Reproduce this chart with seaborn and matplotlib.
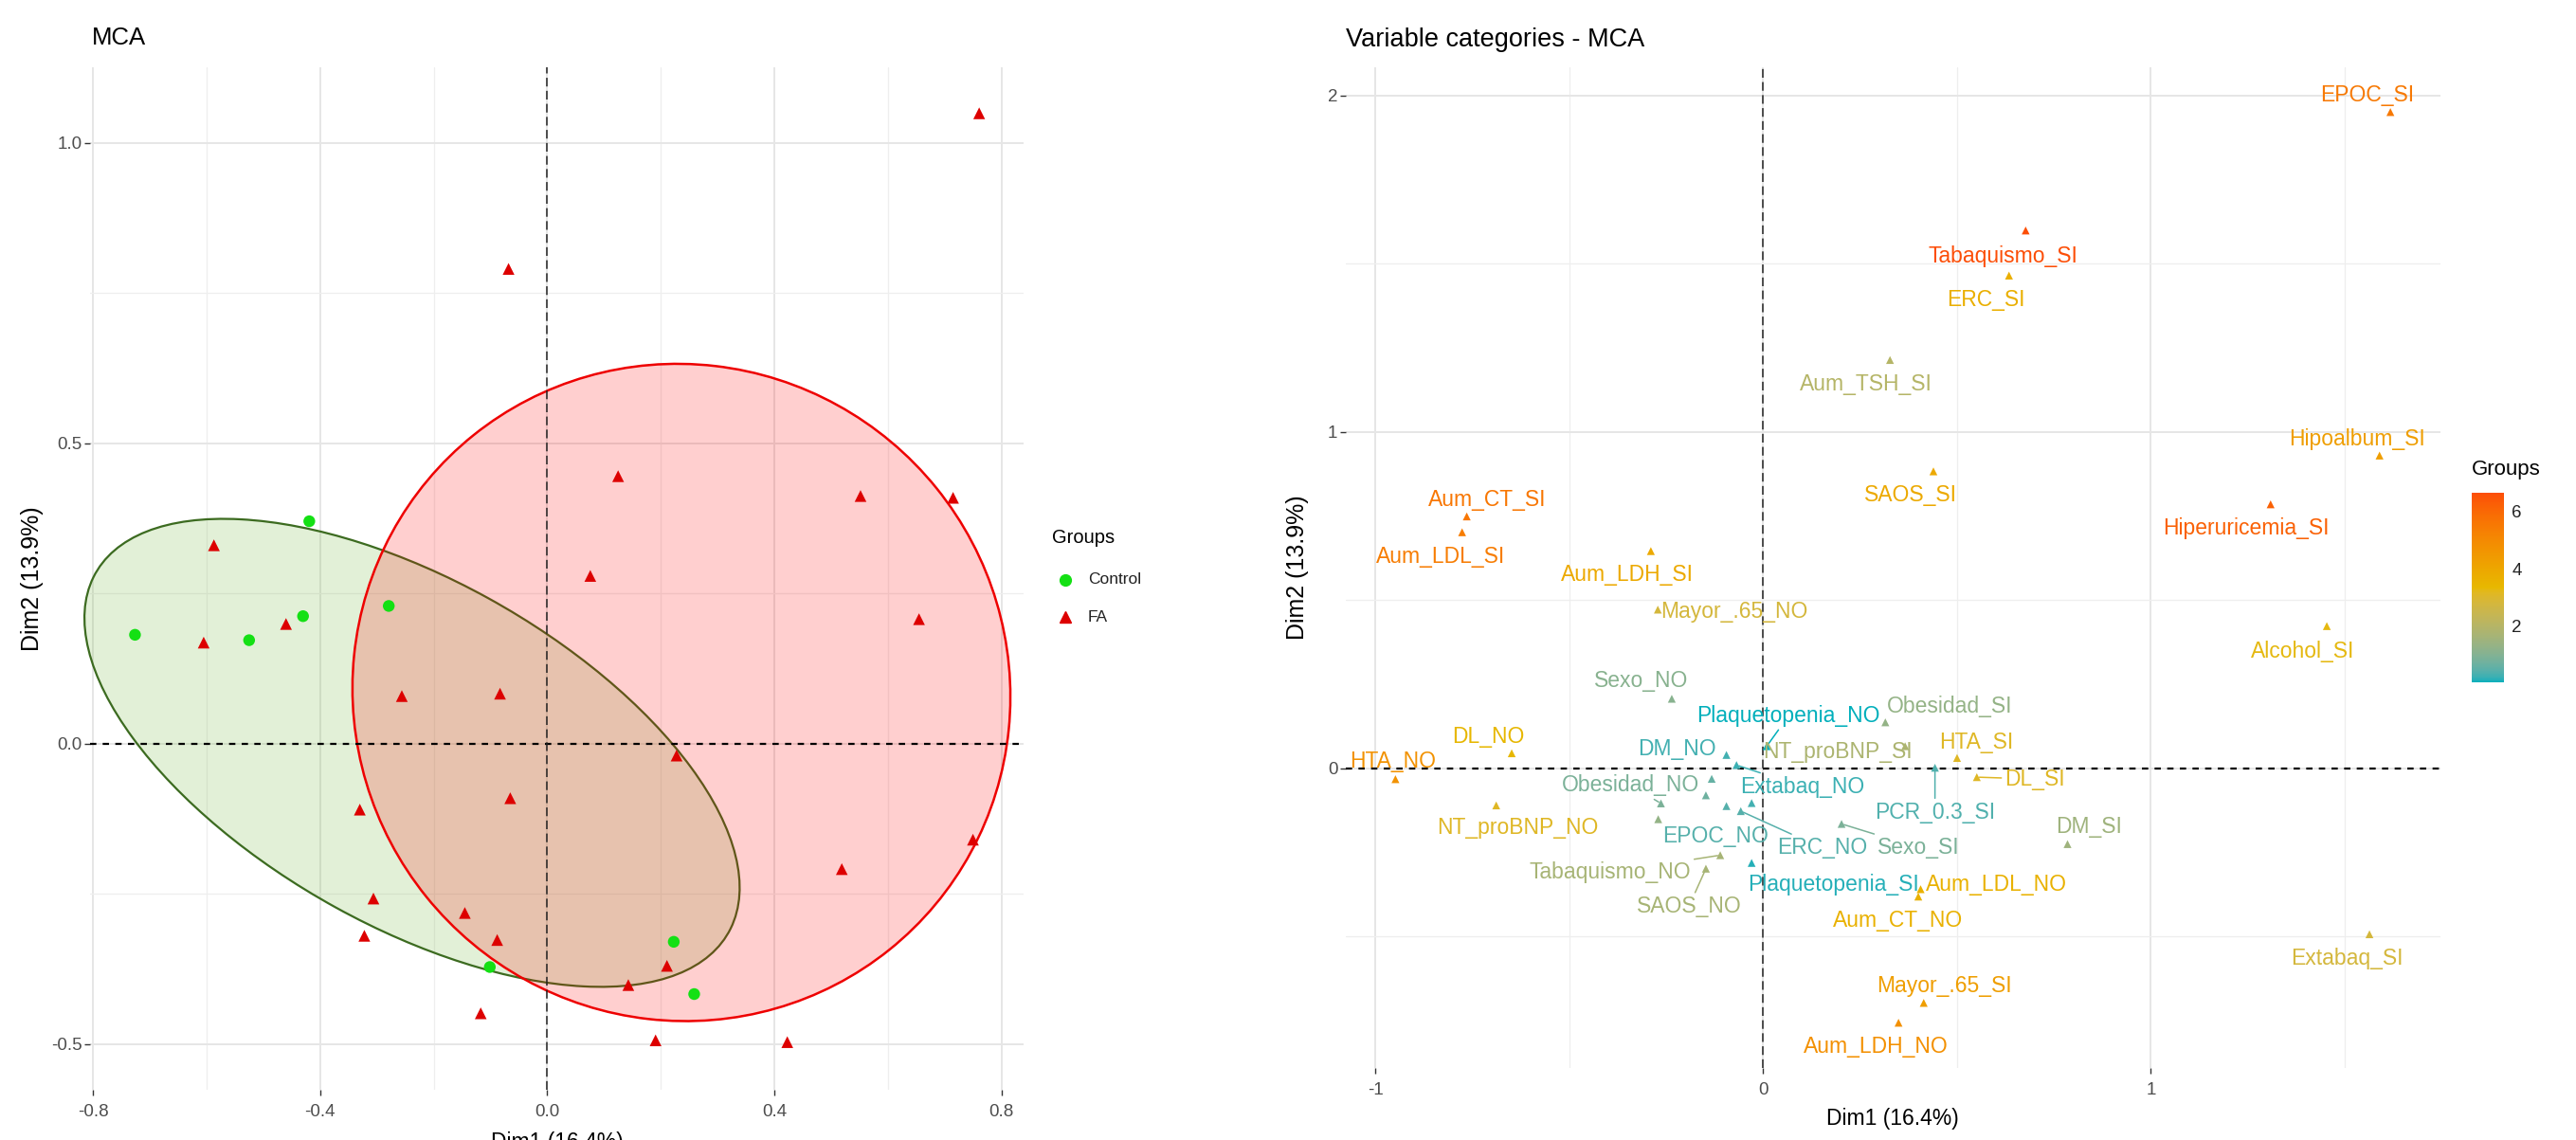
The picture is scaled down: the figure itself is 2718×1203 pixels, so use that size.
import numpy as np
import pandas as pd
import matplotlib
matplotlib.use("Agg")
import matplotlib.pyplot as plt
import seaborn as sns
from matplotlib.patches import Ellipse
from matplotlib.colors import ListedColormap, Normalize
from matplotlib.lines import Line2D
from matplotlib.cm import ScalarMappable
from matplotlib.ticker import MultipleLocator

# ---------------- data: individuals (left panel) ----------------
ind_dim1 = [-0.419, -0.279, -0.430, -0.726, -0.525, 0.223, -0.101, 0.259,
            0.761, -0.068, 0.125, 0.552, 0.715, -0.587, 0.076, 0.655, -0.460,
            -0.605, -0.256, -0.083, 0.228, -0.065, -0.330, 0.750, 0.519, -0.306,
            -0.145, -0.322, -0.088, 0.211, 0.143, -0.117, 0.191, 0.423]
ind_dim2 = [0.370, 0.229, 0.212, 0.181, 0.172, -0.330, -0.372, -0.417,
            1.049, 0.790, 0.445, 0.412, 0.409, 0.330, 0.279, 0.207, 0.199,
            0.168, 0.079, 0.083, -0.020, -0.091, -0.110, -0.160, -0.209, -0.258,
            -0.282, -0.320, -0.327, -0.370, -0.402, -0.449, -0.494, -0.497]
ind_group = ["Control"] * 8 + ["FA"] * 26

# concentration ellipses per group (centre and second moments)
ell_groups = ["Control", "FA"]
ell_center_x = [-0.238, 0.2365]
ell_center_y = [-0.0155, 0.085]
ell_var_x = [0.333, 0.3358]
ell_var_y = [0.1517, 0.2992]
ell_cov_xy = [-0.1295, -0.004]

# ---------------- data: variable categories (right panel) ----------------
var_names = ["EPOC_SI", "Tabaquismo_SI", "ERC_SI", "Aum_TSH_SI", "SAOS_SI",
             "Hiperuricemia_SI", "Hipoalbum_SI", "Aum_CT_SI", "Aum_LDL_SI",
             "Aum_LDH_SI", "Mayor_.65_NO", "Sexo_NO", "DL_NO", "HTA_NO",
             "Alcohol_SI", "Extabaq_SI", "Mayor_.65_SI", "Aum_LDH_NO",
             "Aum_LDL_NO", "Aum_CT_NO", "DM_SI", "Plaquetopenia_NO",
             "Obesidad_SI", "NT_proBNP_SI", "HTA_SI", "DM_NO", "Extabaq_NO",
             "DL_SI", "Obesidad_NO", "PCR_0.3_SI", "NT_proBNP_NO", "EPOC_NO",
             "ERC_NO", "Sexo_SI", "Tabaquismo_NO", "SAOS_NO", "Plaquetopenia_SI",
             "Hipoalbum_NO", "Aum_TSH_NO", "Alcohol_NO", "Hiperuricemia_NO"]
var_dim1 = [1.618, 0.677, 0.634, 0.327, 0.439, 1.309, 1.590, -0.765, -0.777,
            -0.290, -0.272, -0.236, -0.649, -0.949, 1.454, 1.564, 0.414, 0.349,
            0.406, 0.400, 0.785, 0.009, 0.315, 0.366, 0.500, -0.095, -0.069,
            0.551, -0.264, 0.443, -0.689, -0.095, -0.058, 0.202, -0.111, -0.148,
            -0.030, -0.133, -0.148, -0.030, -0.271]
var_dim2 = [1.950, 1.598, 1.464, 1.213, 0.882, 0.784, 0.929, 0.748, 0.701,
            0.645, 0.471, 0.206, 0.044, -0.033, 0.422, -0.494, -0.698, -0.757,
            -0.360, -0.382, -0.226, 0.065, 0.136, 0.065, 0.030, 0.039, 0.009,
            -0.027, -0.105, 0.001, -0.111, -0.113, -0.128, -0.166, -0.259, -0.299,
            -0.282, -0.032, -0.081, -0.104, -0.152]
var_contrib = [5.5, 6.66, 3.7, 2.0, 3.9, 6.2, 4.3, 5.6, 5.4,
               3.9, 2.8, 1.1, 3.4, 4.7, 3.3, 2.8, 4.3, 4.8,
               3.6, 3.6, 1.5, 0.05, 1.3, 1.8, 3.1, 0.3, 0.25,
               3.1, 0.9, 0.4, 3.1, 0.45, 0.45, 0.9, 1.7, 1.7,
               0.15, 0.6, 0.7, 0.3, 1.3]

# ---------------- layout: label placement (repel result, px offsets, y down) -------
label_offsets_px = {
    "EPOC_SI": (-24, -18), "Tabaquismo_SI": (-24, 27), "ERC_SI": (-24, 26),
    "Aum_TSH_SI": (-25, 26), "SAOS_SI": (-24, 25), "Hiperuricemia_SI": (-26, 25),
    "Hipoalbum_SI": (-24, -17), "Aum_CT_SI": (22, -17), "Aum_LDL_SI": (-23, 26),
    "Aum_LDH_SI": (-25, 25), "Mayor_.65_NO": (81, 2), "Sexo_NO": (-32, -19),
    "DL_NO": (-25, -17), "HTA_NO": (-3, -19), "Alcohol_SI": (-25, 27),
    "Extabaq_SI": (-24, 26), "Mayor_.65_SI": (22, -18), "Aum_LDH_NO": (-24, 25),
    "Aum_LDL_NO": (80, -5), "Aum_CT_NO": (-21, 25), "DM_SI": (23, -18),
    "Plaquetopenia_NO": (23, -32), "Obesidad_SI": (68, -17),
    "NT_proBNP_SI": (-71, 6), "HTA_SI": (20, -16), "DM_NO": (-52, -6),
    "Extabaq_NO": (70, 23), "DL_SI": (61, 2), "Obesidad_NO": (-32, -19),
    "PCR_0.3_SI": (0, 47), "NT_proBNP_NO": (23, 24), "EPOC_NO": (-12, 32),
    "ERC_NO": (86, 39), "Sexo_SI": (81, 25), "Tabaquismo_NO": (-116, 18),
    "SAOS_NO": (-18, 40), "Plaquetopenia_SI": (86, 23),
}
segment_labels = {"Plaquetopenia_NO", "Extabaq_NO", "DL_SI", "Obesidad_NO",
                  "PCR_0.3_SI", "ERC_NO", "Sexo_SI", "Tabaquismo_NO", "SAOS_NO"}

# ---------------- style ----------------
sns.set_theme(style="white")
plt.rcParams['font.family'] = ['Liberation Sans', 'DejaVu Sans']
plt.rcParams['axes.unicode_minus'] = False

W, H = 2718, 1203
fig = plt.figure(figsize=(W / 100, H / 100), dpi=100)
fig.patch.set_facecolor("white")

LABEL_FS = 16.5
TICK_FS = 13.5
AXTITLE_FS = 16.5
YLAB_FS = 18


def fx(px):
    return px / W


def fy(py):
    return 1 - py / H


def style_axes(ax, maj_x, min_x, maj_y, min_y):
    ax.xaxis.set_major_locator(MultipleLocator(maj_x))
    ax.xaxis.set_minor_locator(MultipleLocator(min_x))
    ax.yaxis.set_major_locator(MultipleLocator(maj_y))
    ax.yaxis.set_minor_locator(MultipleLocator(min_y))
    ax.grid(True, which='major', color='#e6e6e6', lw=1.4)
    ax.grid(True, which='minor', color='#eeeeee', lw=0.9)
    ax.set_axisbelow(True)
    for s in ax.spines.values():
        s.set_visible(False)
    ax.tick_params(which='major', length=4, width=1, color='#333333',
                   labelsize=TICK_FS, labelcolor='#4d4d4d',
                   bottom=True, left=True)
    ax.tick_params(axis='x', which='major', pad=7)
    ax.tick_params(axis='y', which='major', pad=2)
    ax.tick_params(which='minor', length=0)
    ax.set_facecolor('white')


# ================= LEFT PANEL =================
ax1 = fig.add_axes([fx(95), fy(1150), fx(1080) - fx(95), fy(70.8) - fy(1150)])
df_ind = pd.DataFrame({"Dim1": ind_dim1, "Dim2": ind_dim2, "Group": ind_group})
group_colors = {"Control": "#14e014", "FA": "#dd0000"}
ell_edge = {"Control": "#3c6b20", "FA": "#ee0000"}
ell_face = {"Control": (0.47, 0.73, 0.27, 0.21), "FA": (1.0, 0.0, 0.0, 0.19)}

for g, cx, cy, vx, vy, cxy in zip(ell_groups, ell_center_x, ell_center_y,
                                  ell_var_x, ell_var_y, ell_cov_xy):
    M = np.array([[vx, cxy], [cxy, vy]])
    w, v = np.linalg.eigh(M)
    ang = np.degrees(np.arctan2(v[1, 1], v[0, 1]))
    e = Ellipse((cx, cy), 2 * np.sqrt(w[1]), 2 * np.sqrt(w[0]), angle=ang,
                facecolor=ell_face[g], edgecolor=ell_edge[g],
                lw=1.8 if g == "FA" else 1.6, zorder=1.5, clip_on=False)
    ax1.add_patch(e)

ax1.axhline(0, color='black', lw=1.6, ls=(0, (3, 3)), zorder=2)
ax1.axvline(0, color='#222222', lw=1.1, ls=(0, (6, 3)), zorder=2)

sns.scatterplot(data=df_ind, x="Dim1", y="Dim2", hue="Group", style="Group",
                markers={"Control": "o", "FA": "^"}, palette=group_colors,
                s=80, linewidth=0, legend=False, ax=ax1, zorder=3)

ax1.set_xlim(-0.8052, 0.8392)
ax1.set_ylim(-0.5763, 1.1259)
style_axes(ax1, 0.4, 0.2, 0.5, 0.25)
ax1.set_xlabel("Dim1 (16.4%)", fontsize=AXTITLE_FS, color='black')
ax1.set_ylabel("Dim2 (13.9%)", fontsize=YLAB_FS, color='black')
ax1.xaxis.set_label_coords(0.5, -0.041)
ax1.yaxis.set_label_coords(-0.05, 0.5)

fig.text(fx(97), fy(40), "MCA", fontsize=18.5, va='center', ha='left', color='black')

# legend (left)
fig.text(fx(1110), fy(567), "Groups", fontsize=14.5, va='center', ha='left', color='black')
for yy, g, mk in [(612, "Control", "o"), (651, "FA", "^")]:
    fig.add_artist(Line2D([fx(1124)], [fy(yy)], marker=mk, color=group_colors[g],
                          markersize=8.5, linestyle='none', transform=fig.transFigure))
    fig.text(fx(1148), fy(yy), g, fontsize=12.5, va='center', ha='left', color='#222222')


# ================= RIGHT PANEL =================
def _lin(c):
    c = np.asarray(c, float)
    return np.where(c <= 0.04045, c / 12.92, ((c + 0.055) / 1.055) ** 2.4)


def _delin(c):
    c = np.clip(c, 0, None)
    return np.where(c <= 0.0031308, 12.92 * c, 1.055 * c ** (1 / 2.4) - 0.055)


_M = np.array([[0.4124564, 0.3575761, 0.1804375],
               [0.2126729, 0.7151522, 0.0721750],
               [0.0193339, 0.1191920, 0.9503041]])
_WHITE = np.array([0.95047, 1.0, 1.08883])


def hex_to_lab(h):
    rgb = np.array([int(h[i:i + 2], 16) / 255 for i in (1, 3, 5)])
    xyz = _M @ _lin(rgb) / _WHITE
    d = 6 / 29
    f = np.where(xyz > d ** 3, np.cbrt(xyz), xyz / (3 * d * d) + 4 / 29)
    return np.array([116 * f[1] - 16, 500 * (f[0] - f[1]), 200 * (f[1] - f[2])])


def lab_to_rgb(lab):
    L, a, b = lab
    fy_ = (L + 16) / 116
    fx_ = fy_ + a / 500
    fz_ = fy_ - b / 200
    d = 6 / 29
    f = np.array([fx_, fy_, fz_])
    xyz = np.where(f > d, f ** 3, 3 * d * d * (f - 4 / 29)) * _WHITE
    rgb = _delin(np.linalg.solve(_M, xyz))
    return np.clip(rgb, 0, 1)


grad_hex = ["#00AFBB", "#E7B800", "#FC4E07"]
labs = [hex_to_lab(h) for h in grad_hex]
cols = []
for t in np.linspace(0, 1, 256):
    if t <= 0.5:
        u = t / 0.5
        lab = labs[0] * (1 - u) + labs[1] * u
    else:
        u = (t - 0.5) / 0.5
        lab = labs[1] * (1 - u) + labs[2] * u
    cols.append(lab_to_rgb(lab))
cmap = ListedColormap(cols, name="contrib_grad")
norm = Normalize(vmin=min(var_contrib), vmax=max(var_contrib))

ax2 = fig.add_axes([fx(1419.6), fy(1127), fx(2574.5) - fx(1419.6), fy(70.8) - fy(1127)])
df_var = pd.DataFrame({"Dim1": var_dim1, "Dim2": var_dim2, "contrib": var_contrib,
                       "name": var_names})
ax2.axhline(0, color='black', lw=1.6, ls=(0, (3, 3)), zorder=2)
ax2.axvline(0, color='#222222', lw=1.1, ls=(0, (6, 3)), zorder=2)

sns.scatterplot(data=df_var, x="Dim1", y="Dim2", hue="contrib", palette=cmap,
                hue_norm=norm, marker="^", s=36, linewidth=0, legend=False,
                ax=ax2, zorder=3)

for nm, x, y, c in zip(var_names, var_dim1, var_dim2, var_contrib):
    if nm not in label_offsets_px:
        continue
    dx, dy = label_offsets_px[nm]
    col = cmap(norm(c))
    kw = {}
    if nm in segment_labels:
        kw["arrowprops"] = dict(arrowstyle='-', color=col, lw=1.1,
                                shrinkA=0, shrinkB=2)
    ax2.annotate(nm, xy=(x, y), xytext=(dx * 0.72, -dy * 0.72),
                 textcoords='offset points', ha='center', va='center',
                 fontsize=LABEL_FS, color=col, zorder=4, **kw)

ax2.set_xlim(-1.078, 1.746)
ax2.set_ylim(-0.8915, 2.0837)
style_axes(ax2, 1.0, 0.5, 1.0, 0.5)
ax2.set_xlabel("Dim1 (16.4%)", fontsize=AXTITLE_FS, color='black')
ax2.set_ylabel("Dim2 (13.9%)", fontsize=YLAB_FS, color='black')
ax2.xaxis.set_label_coords(0.5, -0.040)
ax2.yaxis.set_label_coords(-0.0334, 0.5)

fig.text(fx(1420), fy(42), "Variable categories - MCA", fontsize=19.5,
         va='center', ha='left', color='black')

# colour bar legend
cax = fig.add_axes([fx(2608), fy(720), fx(2642) - fx(2608), fy(520) - fy(720)])
sm = ScalarMappable(norm=norm, cmap=cmap)
cb = fig.colorbar(sm, cax=cax, ticks=[2, 4, 6])
cb.outline.set_visible(False)
cax.tick_params(direction='in', color='white', length=6, width=1.2,
                left=True, right=True, labelleft=False, labelright=True,
                labelsize=13.5, labelcolor='#222222', pad=6)
fig.text(fx(2608), fy(495), "Groups", fontsize=16, va='center', ha='left', color='black')

fig.savefig("out.png", dpi=100, facecolor="white")
